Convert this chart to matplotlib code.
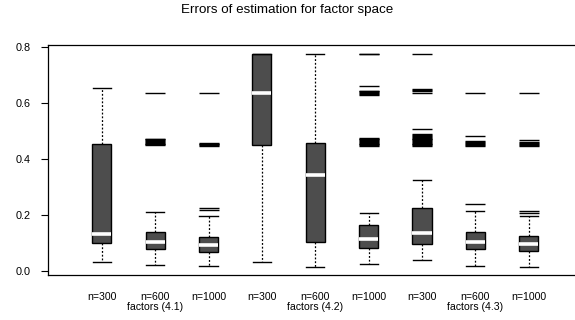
import matplotlib
matplotlib.use('Agg')
import matplotlib.pyplot as plt

plt.rcParams['font.family'] = ['Liberation Sans', 'DejaVu Sans']

# one box per (factor set, sample size)
labels = ['n=300', 'n=600\nfactors (4.1)', 'n=1000',
          'n=300', 'n=600\nfactors (4.2)', 'n=1000',
          'n=300', 'n=600\nfactors (4.3)', 'n=1000']
whislo = [0.033, 0.021, 0.018, 0.033, 0.015, 0.024, 0.039, 0.018, 0.015]
q1     = [0.099, 0.079, 0.069, 0.450, 0.105, 0.081, 0.095, 0.080, 0.073]
med    = [0.132, 0.105, 0.093, 0.635, 0.343, 0.113, 0.137, 0.105, 0.095]
q3     = [0.452, 0.138, 0.120, 0.775, 0.458, 0.166, 0.224, 0.139, 0.124]
whishi = [0.652, 0.210, 0.198, 0.775, 0.775, 0.208, 0.325, 0.215, 0.198]
fliers = [
    [],
    [0.635, 0.449, 0.452, 0.455, 0.458, 0.461, 0.464, 0.467, 0.470, 0.473],
    [0.635, 0.448, 0.450, 0.452, 0.454, 0.456, 0.217, 0.226],
    [],
    [],
    [0.775, 0.774, 0.661, 0.629, 0.632, 0.635, 0.638, 0.641, 0.643,
     0.446, 0.449, 0.452, 0.455, 0.458, 0.461, 0.464, 0.467, 0.470, 0.473, 0.476],
    [0.775, 0.650, 0.647, 0.644, 0.637, 0.508, 0.446, 0.449, 0.452, 0.455,
     0.458, 0.461, 0.464, 0.467, 0.470, 0.473, 0.476, 0.479, 0.482, 0.485, 0.488],
    [0.635, 0.482, 0.448, 0.451, 0.454, 0.457, 0.460, 0.463, 0.238],
    [0.635, 0.467, 0.448, 0.451, 0.454, 0.457, 0.460, 0.213, 0.206],
]

stats = []
for i in range(len(labels)):
    stats.append(dict(label=labels[i], whislo=whislo[i], q1=q1[i], med=med[i],
                      q3=q3[i], whishi=whishi[i], fliers=fliers[i]))

fig = plt.figure(figsize=(5.75, 3.2), dpi=100)
fig.set_facecolor('w')
ax = fig.add_axes([48 / 575, 1 - 275 / 320, 1 - 48 / 575, (275 - 45) / 320])

ax.bxp(stats, positions=range(1, 10), widths=0.36, patch_artist=True,
       boxprops=dict(facecolor='#4d4d4d', edgecolor='black', linewidth=1.0),
       medianprops=dict(color='white', linewidth=2.6, solid_capstyle='butt'),
       whiskerprops=dict(color='black', linestyle=(0, (1.5, 1.5)), linewidth=0.9),
       capprops=dict(color='black', linewidth=1.0),
       capwidths=0.34,
       flierprops=dict(marker='_', markersize=14, markeredgewidth=1.0,
                       markeredgecolor='black', linestyle='none'))

ax.set_xlim(-0.01, 9.87)
ax.set_ylim(-0.0143, 0.807)
ax.set_yticks([0.0, 0.2, 0.4, 0.6, 0.8])
ax.set_yticklabels(['0.0', '0.2', '0.4', '0.6', '0.8'])
ax.tick_params(axis='y', labelsize=7.8, length=4.7, width=0.8, pad=8)
ax.tick_params(axis='x', labelsize=7.6, length=0, pad=12)
for t in ax.get_xticklabels():
    t.set_linespacing(1.05)
for s in ax.spines.values():
    s.set_linewidth(0.9)
ax.spines['right'].set_visible(False)

fig.text(0.5, 1 - 10 / 320, 'Errors of estimation for factor space',
         ha='center', va='center', fontsize=9.6)

fig.savefig('out.png', dpi=100)
